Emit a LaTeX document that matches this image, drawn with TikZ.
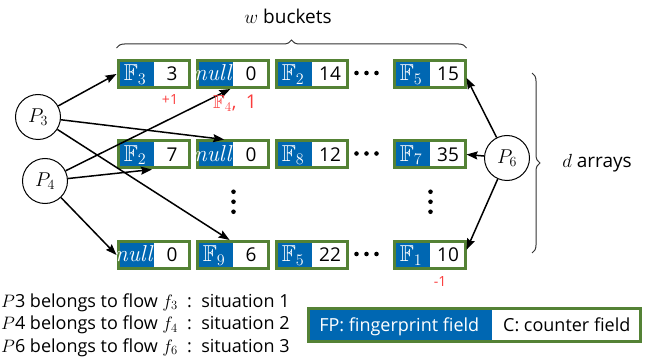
\RequirePackage{fix-cm}
\documentclass[tikz,border=0pt]{standalone}
\usepackage{amssymb}
\usepackage[no-math]{fontspec}
\setmainfont{Open Sans}
\usetikzlibrary{arrows.meta,positioning,calc,shapes.multipart,decorations.pathreplacing}
% let the double-struck letters scale freely
\DeclareFontFamily{U}{msb}{}
\DeclareFontShape{U}{msb}{m}{n}{<-> msbm10}{}

\definecolor{fpblue}{RGB}{0,103,178}
\definecolor{frame}{RGB}{84,130,53}
\definecolor{notered}{RGB}{250,60,60}

% one bucket: fingerprint part, counter part
\newcommand\cell[2]{\makebox[34pt]{\color{white}\rule[-6.7pt]{0pt}{27pt}{\fontsize{23}{23}\selectfont#1}}\nodepart{two}\makebox[34pt]{\rule[-6.7pt]{0pt}{27pt}#2}}

\tikzset{
  bucket/.style={rectangle split, rectangle split horizontal, rectangle split parts=2,
    rectangle split part fill={fpblue,white}, rectangle split draw splits=false,
    draw=frame, line width=3pt, inner sep=0pt, font=\fontsize{19}{20}\selectfont},
  packet/.style={circle, draw, line width=1pt, minimum size=45pt, inner sep=0pt,
    font=\fontsize{20}{20}\selectfont},
  hit/.style={->, line width=1.5pt},
  note/.style={text=notered, font=\fontsize{14}{16}\selectfont, inner sep=0pt},
  label text/.style={font=\fontsize{19}{20}\selectfont, inner sep=0pt},
  span/.style={decorate, decoration={brace, amplitude=8pt}, line width=1pt, draw=black!80},
}

\begin{document}
\begin{tikzpicture}[x=1pt,y=1pt,>={Stealth[length=11pt,width=8pt,inset=1.5pt]}]
  \useasboundingbox (0,0) rectangle (647,-358);

  % first array
  \node[bucket] (b11) at (153.5,-74) {\cell{$\mathbb{F}_3$}{3}};
  \node[bucket, right=5pt of b11] (b12) {\cell{$\mathit{null}$}{0}};
  \node[bucket, right=5pt of b12] (b13) {\cell{$\mathbb{F}_2$}{14}};
  \node[bucket, right=44pt of b13] (b14) {\cell{$\mathbb{F}_5$}{15}};
  % second array
  \node[bucket] (b21) at (153.5,-154.5) {\cell{$\mathbb{F}_2$}{7}};
  \node[bucket, right=5pt of b21] (b22) {\cell{$\mathit{null}$}{0}};
  \node[bucket, right=5pt of b22] (b23) {\cell{$\mathbb{F}_8$}{12}};
  \node[bucket, right=44pt of b23] (b24) {\cell{$\mathbb{F}_7$}{35}};
  % last array
  \node[bucket] (b31) at (153.5,-255) {\cell{$\mathit{null}$}{0}};
  \node[bucket, right=5pt of b31] (b32) {\cell{$\mathbb{F}_9$}{6}};
  \node[bucket, right=5pt of b32] (b33) {\cell{$\mathbb{F}_5$}{22}};
  \node[bucket, right=44pt of b33] (b34) {\cell{$\mathbb{F}_1$}{10}};

  \foreach \r in {1,2,3}
    \foreach \d in {-10,0,10}
      \fill ($(b\r3.east)!0.5!(b\r4.west)+(\d-4,1)$) circle (2.3pt);
  \foreach \c in {2,4}
    \foreach \d in {-10,0,10}
      \fill ($(b2\c.south)!0.5!(b3\c.north)+(1,\d+3)$) circle (2.3pt);

  \node[packet] (P3) at (38,-117) {$P_3$};
  \node[packet] (P4) at (45,-181) {$P_4$};
  \node[packet] (P6) at (507,-158) {$P_6$};

  \draw[hit] (P3) -- (b11.west);
  \draw[hit] (P3) -- (b22.119);
  \draw[hit] (P3) -- (b32.101);
  \draw[hit] (P4) -- (b12.-98);
  \draw[hit] (P4) -- (b21.-96);
  \draw[hit] (P4) -- (b31.west);
  \draw[hit] (P6) -- (b14.-6);
  \draw[hit] (P6) -- (b24.east);
  \draw[hit] (P6) -- (b34.8);

  \node[note] (inc) at (170,-100) {+1};
  \node[note, font=\fontsize{19}{19}\selectfont] (ins) at (235,-103) {$\mathbb{F}_4$,\enspace 1};
  \node[note] (dec) at (440,-282) {-1};

  \draw[span] ([yshift=11pt]b11.north west) -- ([yshift=11pt]b14.north east);
  \node[label text] (wlab) at (288,-16) {$w$ buckets};
  \coordinate (rtop) at (532,-73);
  \coordinate (rbot) at (532,-253);
  \draw[span] (rtop) -- (rbot);
  \node[label text] (dlab) at (597,-163) {$d$ arrays};

  \node[label text, font=\fontsize{18}{22.5}\selectfont, anchor=west, align=left] (flows) at (1,-325)
    {$P$3 belongs to flow $f_3$\ \ :\ \ situation 1\\
     $P$4 belongs to flow $f_4$\ \ :\ \ situation 2\\
     $P$6 belongs to flow $f_6$\ \ :\ \ situation 3};

  \node[bucket, font=\fontsize{18}{19}\selectfont] (key) at (474,-325)
    {\makebox[182.5pt]{\color{white}\rule[-10.5pt]{0pt}{33pt}FP: fingerprint field}%
     \nodepart{two}\makebox[146.5pt]{\rule[-10.5pt]{0pt}{33pt}C: counter field}};
\end{tikzpicture}
\end{document}
